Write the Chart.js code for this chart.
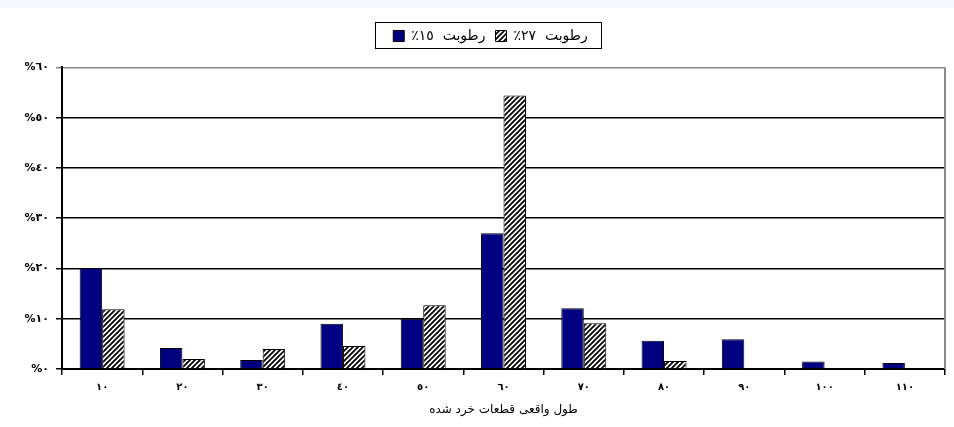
<!DOCTYPE html>
<html lang="fa">
<head>
    <meta charset="UTF-8">
    <title>طول واقعی قطعات خرد شده</title>
    <script src="https://cdn.jsdelivr.net/npm/chart.js"></script>
    <style>
        body { margin: 0; background: #fff; }
        #wrap { width: 954px; height: 427px; background: linear-gradient(#f7f8fd 0, #f7f8fd 8px, #fff 8px); }
    </style>
</head>
<body>
    <div id="wrap"><canvas id="chart" width="954" height="427"></canvas></div>
    <script>
        // data
        const categories = ['١٠', '٢٠', '٣٠', '٤٠', '٥٠', '٦٠', '٧٠', '٨٠', '٩٠', '١٠٠', '١١٠'];
        const humidity15 = [20.1, 4.2, 1.8, 9.0, 10.0, 27.0, 12.1, 5.6, 5.9, 1.5, 1.2];
        const humidity27 = [11.9, 2.0, 4.0, 4.6, 12.7, 54.4, 9.1, 1.6, 0, 0, 0];
        const yTickLabels = ['%٠', '%١٠', '%٢٠', '%٣٠', '%٤٠', '%٥٠', '%٦٠'];
        // trailing RLM keeps the percent sign on the left of the number
        const seriesNames = ['رطوبت  ١٥٪\u200F', 'رطوبت  ٢٧٪\u200F'];
        const xTitle = 'طول واقعی قطعات خرد شده';

        const FONT = '"DejaVu Sans", sans-serif';

        function hatch() {
            const c = document.createElement('canvas');
            c.width = 5; c.height = 5;
            const g = c.getContext('2d');
            g.fillStyle = '#fff';
            g.fillRect(0, 0, 5, 5);
            g.strokeStyle = '#000';
            g.lineWidth = 1.8;
            g.beginPath();
            g.moveTo(-1, 6); g.lineTo(6, -1);
            g.moveTo(-3.5, 3.5); g.lineTo(3.5, -3.5);
            g.moveTo(1.5, 8.5); g.lineTo(8.5, 1.5);
            g.stroke();
            return g.createPattern(c, 'repeat');
        }

        // legend sits a little right of the canvas centre, framed; grey right edge of the plot
        const frames = {
            id: 'frames',
            afterLayout(chart) {
                chart.legend.left += 18;
                chart.legend.right += 18;
            },
            afterDraw(chart) {
                const ctx = chart.ctx;
                const a = chart.chartArea;
                ctx.save();
                ctx.strokeStyle = '#888';
                ctx.lineWidth = 2;
                ctx.beginPath();
                ctx.moveTo(a.right, a.top);
                ctx.lineTo(a.right, a.bottom);
                ctx.stroke();
                const boxes = chart.legend.legendHitBoxes;
                if (boxes && boxes.length) {
                    const l = Math.min(...boxes.map(b => b.left));
                    const r = Math.max(...boxes.map(b => b.left + b.width));
                    const t = Math.min(...boxes.map(b => b.top));
                    const bt = Math.max(...boxes.map(b => b.top + b.height));
                    ctx.strokeStyle = '#000';
                    ctx.lineWidth = 1;
                    ctx.strokeRect(Math.round(l - 18) + 0.5, Math.round(t - 7) + 0.5, Math.round(r - l + 32), Math.round(bt - t + 12));
                }
                ctx.restore();
            }
        };

        new Chart(document.getElementById('chart'), {
            type: 'bar',
            data: {
                labels: categories,
                datasets: [
                    {
                        label: seriesNames[0],
                        data: humidity15,
                        backgroundColor: '#000080',
                        borderColor: '#000',
                        borderWidth: 1
                    },
                    {
                        label: seriesNames[1],
                        data: humidity27,
                        backgroundColor: hatch(),
                        borderColor: '#000',
                        borderWidth: 1
                    }
                ]
            },
            options: {
                responsive: false,
                animation: false,
                datasets: { bar: { categoryPercentage: 0.56, barPercentage: 1.0 } },
                layout: { padding: { left: 0, right: 9, top: 19, bottom: 0 } },
                plugins: {
                    legend: {
                        position: 'top',
                        weight: 3000,
                        labels: {
                            boxWidth: 11,
                            boxHeight: 11,
                            padding: 10,
                            color: '#000',
                            font: { family: FONT, size: 14 }
                        }
                    },
                    title: {
                        display: true,
                        text: '',
                        padding: { top: 0, bottom: 0 }
                    },
                    tooltip: { enabled: false }
                },
                scales: {
                    x: {
                        offset: true,
                        grid: { offset: true, drawOnChartArea: false, color: '#000', lineWidth: 1.5, tickLength: 6 },
                        border: { color: '#000', width: 2 },
                        ticks: { color: '#000', font: { family: FONT, size: 10, weight: 'bold' }, padding: 6, maxRotation: 0 },
                        title: {
                            display: true,
                            text: xTitle,
                            color: '#000',
                            font: { family: FONT, size: 12 },
                            padding: { top: 4, bottom: 10 }
                        },
                        afterFit: s => { s.height = 58; }
                    },
                    y: {
                        min: 0,
                        max: 60,
                        ticks: {
                            stepSize: 10,
                            color: '#000',
                            padding: 7,
                            font: { family: FONT, size: 11, weight: 'bold' },
                            callback: v => yTickLabels[v / 10]
                        },
                        grid: {
                            color: c => c.tick && c.tick.value === 60 ? '#888' : '#000',
                            lineWidth: 1.5,
                            tickLength: 6
                        },
                        border: { color: '#000', width: 2 },
                        afterFit: s => { s.width = 62; }
                    }
                }
            },
            plugins: [frames]
        });
    </script>
</body>
</html>
